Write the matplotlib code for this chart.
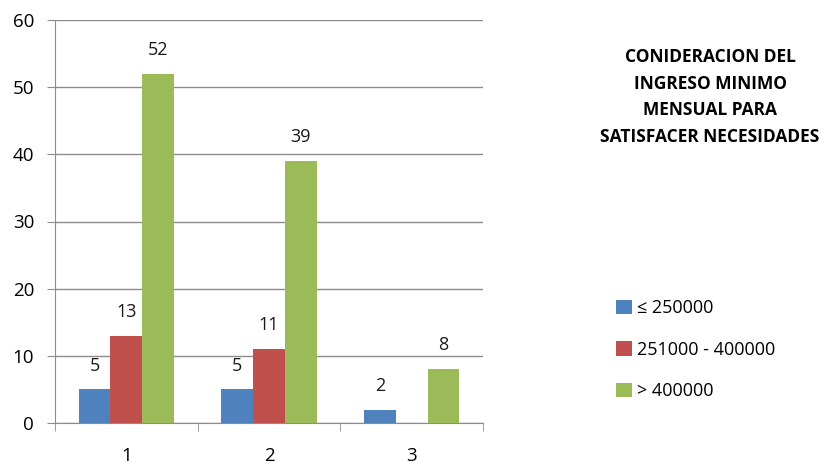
import numpy as np
import matplotlib
matplotlib.use("Agg")
import matplotlib.pyplot as plt

plt.rcParams['font.family'] = ['Open Sans', 'DejaVu Sans']

categorias = ['1', '2', '3']
series = ['≤ 250000', '251000 - 400000', '> 400000']
hasta_250 = [5, 5, 2]
entre_251_400 = [13, 11, np.nan]  # sin dato en la 3
mas_400 = [52, 39, 8]
colores = ['#4F81BD', '#C0504D', '#9BBB59']
titulo = 'CONIDERACION DEL\nINGRESO MINIMO\nMENSUAL PARA\nSATISFACER NECESIDADES'

valores = [hasta_250, entre_251_400, mas_400]

fig = plt.figure(figsize=(8.27, 4.63), dpi=100)
ax = fig.add_axes([55/827, 40/463, 428/827, 403/463])

x = np.arange(len(categorias))
w = 1 / 4.5  # gap width 150%
for i, (vals, col, nom) in enumerate(zip(valores, colores, series)):
    pos = x + (i - 1) * w
    ax.bar(pos, vals, width=w, color=col, label=nom, zorder=3)
    for p, v in zip(pos, vals):
        if not np.isnan(v):
            ax.text(p, v + 2.2, f'{v:g}', ha='center', va='bottom', fontsize=13, color='#1a1a1a')

ax.set_xlim(-0.5, 2.5)
ax.set_ylim(0, 60)
ax.set_yticks(range(0, 61, 10))
ax.yaxis.grid(True, color='#8c8c8c', linewidth=1, zorder=0)
ax.set_xticks(x)
ax.set_xticklabels(categorias)
ax.set_xticks(np.arange(-0.5, 3, 1), minor=True)
ax.tick_params(axis='x', which='major', length=0, pad=17, labelsize=13.5)
ax.tick_params(axis='x', which='minor', length=6, color='#8c8c8c')
ax.tick_params(axis='y', length=6, color='#8c8c8c', labelsize=13.5, pad=9)
for s in ['top', 'right']:
    ax.spines[s].set_visible(False)
for s in ['left', 'bottom']:
    ax.spines[s].set_color('#8c8c8c')

fig.text(710/827, 1 - 97/463, titulo, ha='center', va='center', fontsize=12.5,
         fontweight='bold', linespacing=1.6, family=['Open Sans', 'DejaVu Sans'])

fig.legend(loc='upper left', bbox_to_anchor=(600/827, 1 - 283/463), frameon=False,
           handlelength=0.85, handleheight=0.85, handletextpad=0.3,
           labelspacing=1.3, fontsize=13)

fig.savefig('out.png', dpi=100)
